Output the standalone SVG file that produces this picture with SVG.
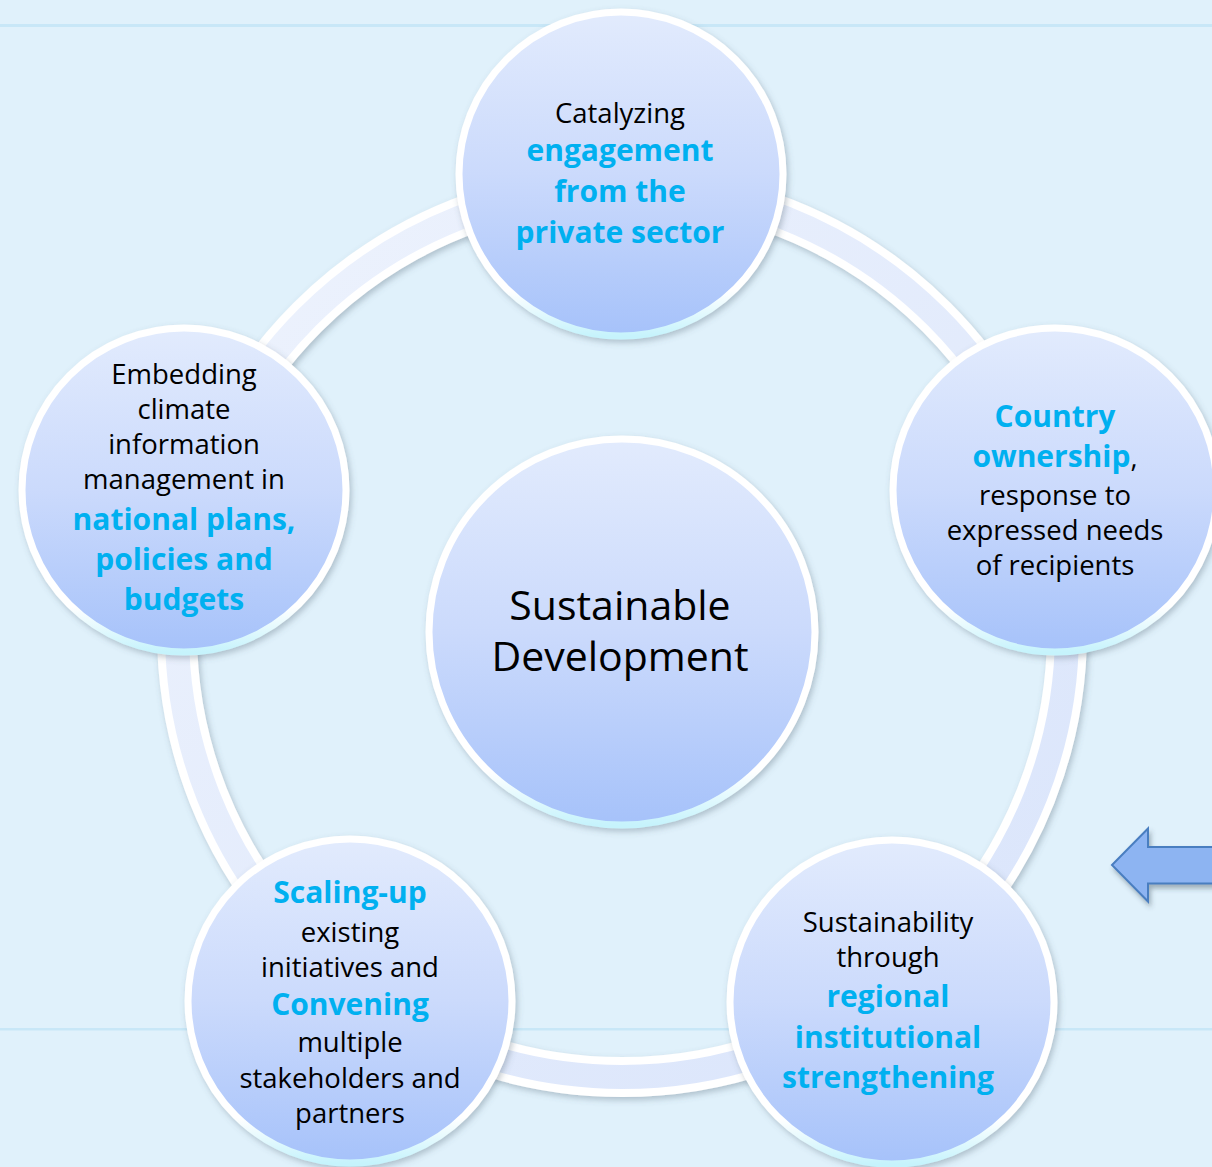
<svg xmlns="http://www.w3.org/2000/svg" width="1212" height="1167" viewBox="0 0 1212 1167">
<defs>
<linearGradient id="fillG" x1="0" y1="0" x2="0" y2="1">
<stop offset="0" stop-color="#e2ebfd"/>
<stop offset="0.5" stop-color="#cbdafc"/>
<stop offset="1" stop-color="#a6c2fa"/>
</linearGradient>
<linearGradient id="rimG" x1="0" y1="0" x2="0" y2="1">
<stop offset="0" stop-color="#ffffff"/>
<stop offset="0.86" stop-color="#ffffff"/>
<stop offset="1" stop-color="#c6f3fc"/>
</linearGradient>
<linearGradient id="bandG" x1="0" y1="0" x2="1" y2="1">
<stop offset="0" stop-color="#eef3fd"/>
<stop offset="1" stop-color="#d9e4fb"/>
</linearGradient>
<filter id="sh" x="-20%" y="-20%" width="140%" height="140%">
<feDropShadow dx="2" dy="3" stdDeviation="3" flood-color="#4d6473" flood-opacity="0.35"/>
</filter>
<filter id="ash" x="-20%" y="-30%" width="140%" height="170%">
<feDropShadow dx="2" dy="4" stdDeviation="2.5" flood-color="#3a4a5a" flood-opacity="0.4"/>
</filter>
<style>
.node circle{fill:url(#fillG);stroke:url(#rimG);stroke-width:7;filter:url(#sh)}
text{font-family:"Open Sans","Noto Sans","Liberation Sans",sans-serif;text-anchor:middle}
.r{font-size:27.5px;fill:#000000}
.b{font-size:30px;font-weight:bold;fill:#00b0f0}
.c{font-size:41px;fill:#000000}
</style>
</defs>
<rect x="0" y="0" width="1212" height="1167" fill="#e0f1fb"/>
<rect x="0" y="24" width="1212" height="3" fill="#c8e7f7"/>
<rect x="0" y="1028" width="1212" height="2.5" fill="#c8e7f7"/>
<g id="connectors">
<circle cx="622" cy="632" r="445" fill="none" stroke="#ffffff" stroke-width="40" filter="url(#sh)"/>
<circle cx="622" cy="632" r="445" fill="none" stroke="url(#bandG)" stroke-width="24"/>
</g>
<g id="node-center" class="node">
<circle cx="622" cy="632" r="193"/>
<text class="c" x="620" y="620">Sustainable</text>
<text class="c" x="620" y="671">Development</text>
</g>
<g id="node-top" class="node">
<circle cx="621" cy="174" r="162"/>
<text class="r" x="620" y="123">Catalyzing</text>
<text class="b" x="620" y="161">engagement</text>
<text class="b" x="620" y="202">from the</text>
<text class="b" x="620" y="243">private sector</text>
</g>
<g id="node-right" class="node">
<circle cx="1055" cy="490" r="162"/>
<text class="b" x="1055" y="427">Country</text>
<text x="1055" y="467"><tspan class="b">ownership</tspan><tspan class="r">,</tspan></text>
<text class="r" x="1055" y="505">response to</text>
<text class="r" x="1055" y="540">expressed needs</text>
<text class="r" x="1055" y="575">of recipients</text>
</g>
<g id="node-left" class="node">
<circle cx="184" cy="490" r="162"/>
<text class="r" x="184" y="384">Embedding</text>
<text class="r" x="184" y="419">climate</text>
<text class="r" x="184" y="454">information</text>
<text class="r" x="184" y="489">management in</text>
<text class="b" x="184" y="530">national plans,</text>
<text class="b" x="184" y="570">policies and</text>
<text class="b" x="184" y="610">budgets</text>
</g>
<g id="node-bottom-left" class="node">
<circle cx="350" cy="1001" r="162"/>
<text class="b" x="350" y="903">Scaling-up</text>
<text class="r" x="350" y="942">existing</text>
<text class="r" x="350" y="977">initiatives and</text>
<text class="b" x="350" y="1015">Convening</text>
<text class="r" x="350" y="1052">multiple</text>
<text class="r" x="350" y="1088">stakeholders and</text>
<text class="r" x="350" y="1123">partners</text>
</g>
<g id="node-bottom-right" class="node">
<circle cx="892" cy="1002" r="162"/>
<text class="r" x="888" y="932">Sustainability</text>
<text class="r" x="888" y="967">through</text>
<text class="b" x="888" y="1007">regional</text>
<text class="b" x="888" y="1048">institutional</text>
<text class="b" x="888" y="1088">strengthening</text>
</g>
<g id="arrow">
<path d="M1112,865 L1148,828.5 L1148,847 L1216,847 L1216,883.5 L1148,883.5 L1148,901.5 Z" fill="#8db4f2" stroke="#4a7ec0" stroke-width="2" stroke-linejoin="miter" filter="url(#ash)"/>
</g>
</svg>
